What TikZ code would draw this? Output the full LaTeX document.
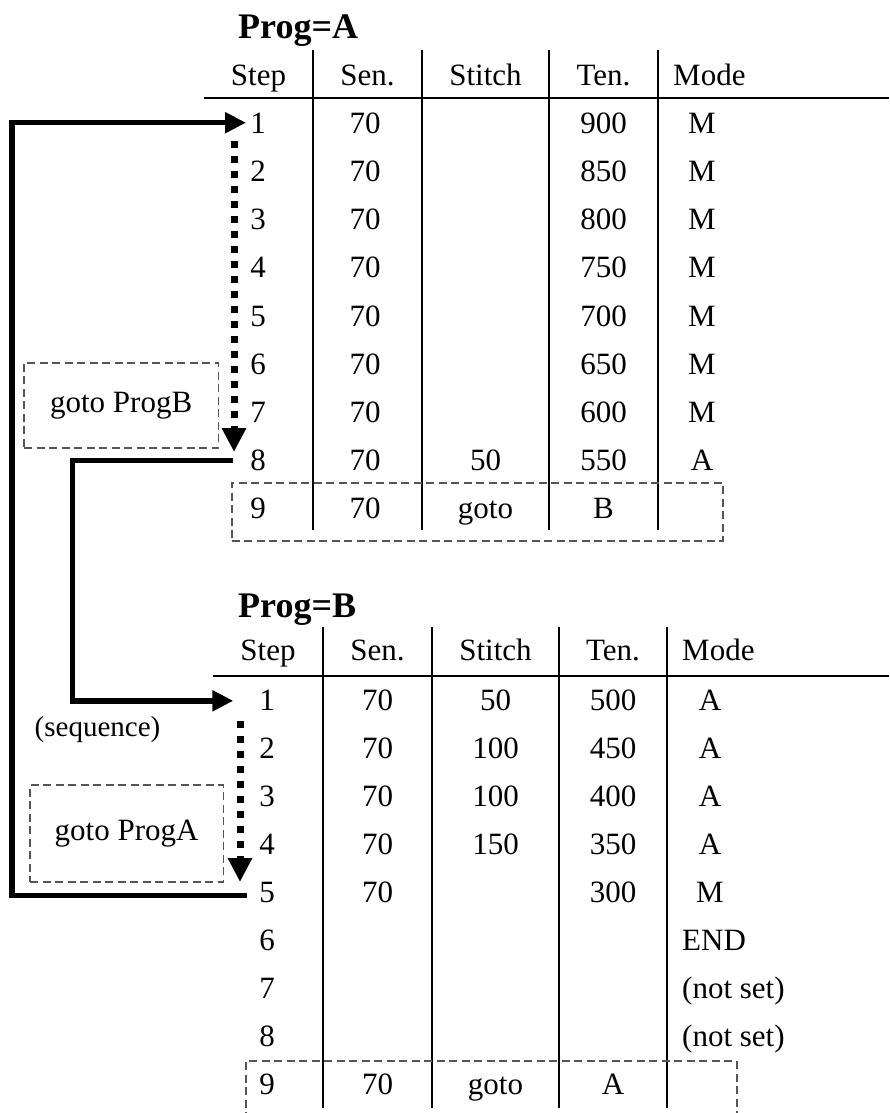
\documentclass[tikz,border=0pt]{standalone}
\usepackage{fontspec}
\setmainfont{Liberation Serif}
\usetikzlibrary{arrows.meta}
\definecolor{dgray}{HTML}{555555}
\begin{document}
\begin{tikzpicture}[x=1pt,y=-1pt,
  cell/.style={font=\fontsize{31}{31}\selectfont, inner sep=0pt, anchor=base},
  lcell/.style={cell, anchor=base west},
  ttl/.style={font=\fontsize{36}{36}\selectfont\bfseries, inner sep=0pt, anchor=base west},
  tline/.style={line width=1.8pt, black},
  conn/.style={line width=5.5pt, black, -{Triangle[length=21pt,width=20pt]}},
  plain/.style={line width=5.5pt, black},
  seqarrow/.style={line width=7pt, black, dash pattern=on 7pt off 8pt, -{Triangle[length=24pt,width=23pt]}},
  dbox/.style={draw=dgray, line width=1.6pt, dash pattern=on 8pt off 4.5pt, inner sep=0pt},
  note/.style={font=\fontsize{31}{31}\selectfont, inner sep=0pt}
]
\useasboundingbox (0,0) rectangle (889,1113);
\clip (0,0) rectangle (889,1113);

% ---------------- Table A ----------------
\node[ttl] (titleA) at (238,39) {Prog=A};
\draw[tline] (204,98) -- (889,98);
\foreach \x in {313,422,549,658} \draw[tline] (\x,50) -- (\x,530);
\node[cell] (hA1) at (258.5,86) {Step};
\node[cell] (hA2) at (367.5,86) {Sen.};
\node[cell] (hA3) at (485.5,86) {Stitch};
\node[cell] (hA4) at (603.5,86) {Ten.};
\node[lcell] (hA5) at (673,86) {Mode};

\foreach \i/\se/\st/\te/\mo in {1/70//900/M,2/70//850/M,3/70//800/M,4/70//750/M,5/70//700/M,6/70//650/M,7/70//600/M,8/70/50/550/A,9/70/goto/B/}{
  \pgfmathsetmacro{\yy}{133.3+(\i-1)*48.2}
  \node[cell] (A\i s) at (258,\yy) {\i};
  \node[cell] (A\i n) at (365,\yy) {\se};
  \node[cell] (A\i t) at (485.5,\yy) {\st};
  \node[cell] (A\i e) at (603.5,\yy) {\te};
  \node[cell] (A\i m) at (702,\yy) {\mo};
}
\node[dbox, minimum width=491pt, minimum height=58pt] (rowA9) at (477.2,511.7) {};

% ---------------- Table B ----------------
\node[ttl] (titleB) at (238,617) {Prog=B};
\draw[tline] (213,676) -- (889,676);
\foreach \x in {323,432,559,667} \draw[tline] (\x,627) -- (\x,1108);
\node[cell] (hB1) at (268,660) {Step};
\node[cell] (hB2) at (377.5,660) {Sen.};
\node[cell] (hB3) at (495.5,660) {Stitch};
\node[cell] (hB4) at (613,660) {Ten.};
\node[lcell] (hB5) at (682,660) {Mode};

\foreach \i/\se/\st/\te/\mo in {1/70/50/500/A,2/70/100/450/A,3/70/100/400/A,4/70/150/350/A,5/70//300/M,9/70/goto/A/}{
  \pgfmathsetmacro{\yy}{710+(\i-1)*48.1}
  \node[cell] (B\i s) at (267,\yy) {\i};
  \node[cell] (B\i n) at (377.5,\yy) {\se};
  \node[cell] (B\i t) at (495.5,\yy) {\st};
  \node[cell] (B\i e) at (613,\yy) {\te};
  \node[cell] (B\i m) at (710,\yy) {\mo};
}
\foreach \i/\mo in {6/END,7/(not set),8/(not set)}{
  \pgfmathsetmacro{\yy}{710+(\i-1)*48.1}
  \node[cell] (B\i s) at (267,\yy) {\i};
  \node[lcell] (B\i m) at (682,\yy) {\mo};
}
\node[dbox, minimum width=490.7pt, minimum height=80pt] (rowB9) at (491.35,1101) {};

% ---------------- notes ----------------
\node[dbox, note, minimum width=194.3pt, minimum height=85.3pt] (gotoB) at (121.15,405.35) {goto ProgB};
\node[dbox, note, minimum width=193.3pt, minimum height=97pt] (gotoA) at (126.65,833.5) {goto ProgA};
\node[font=\fontsize{29}{29}\selectfont, inner sep=0pt, anchor=base] (seq) at (97.5,736.7) {(sequence)};

% ---------------- connectors ----------------
\coordinate (outB5) at (247,895.5);
\coordinate (cL1) at (12,895.5);
\coordinate (cL2) at (12,122.7);
\coordinate (inA1) at (246,122.7);
\draw[conn] (outB5) -- (cL1) -- (cL2) -- (inA1);

\coordinate (outA8) at (233.3,460.5);
\coordinate (cM1) at (72.5,460.5);
\coordinate (cM2) at (72.5,700.8);
\coordinate (inB1) at (233.3,700.8);
\draw[conn] (outA8) -- (cM1) -- (cM2) -- (inB1);

\coordinate (sA0) at (234,141);
\coordinate (sA1) at (234,452);
\draw[seqarrow] (sA0) -- (sA1);

\coordinate (sB0) at (240,720.7);
\coordinate (sB1) at (240,882);
\draw[seqarrow] (sB0) -- (sB1);
\end{tikzpicture}
\end{document}
